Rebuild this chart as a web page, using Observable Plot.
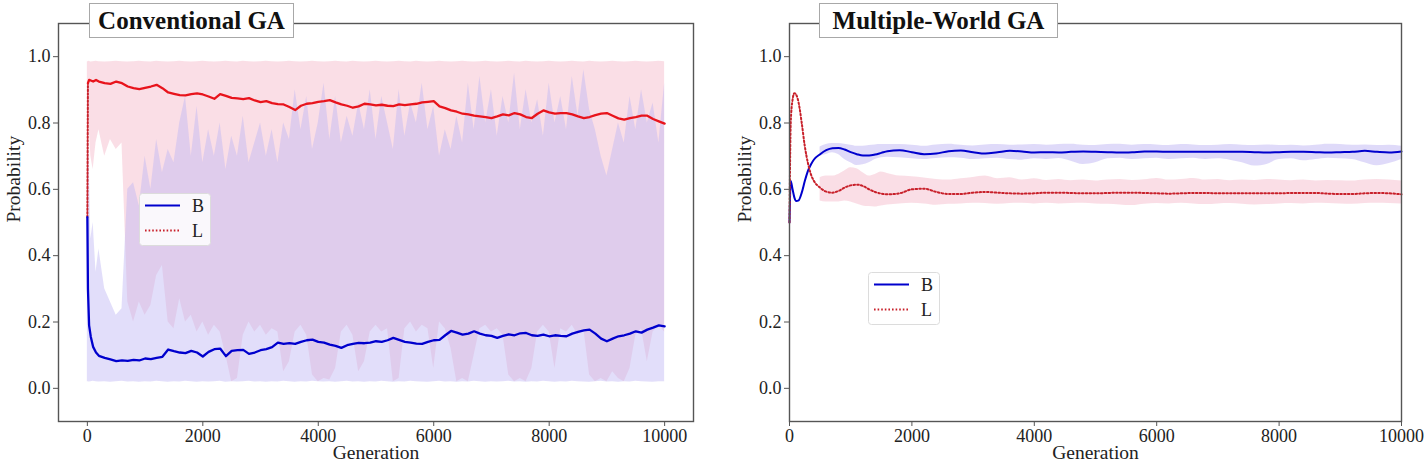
<!DOCTYPE html>
<html>
<head>
<meta charset="utf-8">
<script src="https://cdn.jsdelivr.net/npm/d3@7"></script>
<script src="https://cdn.jsdelivr.net/npm/@observablehq/plot@0.6"></script>
<style>
  html, body { margin: 0; padding: 0; background: #fff; }
  #wrap { position: relative; width: 1428px; height: 465px; overflow: hidden; font-family: "Liberation Serif", "Times New Roman", serif; }
  #wrap > svg { position: absolute; top: 0; }
  .title { position: absolute; top: 3px; height: 35px; box-sizing: border-box; border: 1px solid #a8a8a8; background: #fff;
           font-weight: bold; font-size: 25px; line-height: 33px; text-align: center; color: #111; }
</style>
</head>
<body>
<div id="wrap"></div>
<script>
// ---------- Conventional GA (left) ----------
const genC = [0,10,30,60,100,150,200,
  300,400,500,600,700,800,900,1000,
  1100,1200,1300,1400,1500,1600,1700,1800,1900,2000,
  2100,2200,2300,2400,2500,2600,2700,2800,2900,3000,
  3100,3200,3300,3400,3500,3600,3700,3800,3900,4000,
  4100,4200,4300,4400,4500,4600,4700,4800,4900,5000,
  5100,5200,5300,5400,5500,5600,5700,5800,5900,6000,
  6100,6200,6300,6400,6500,6600,6700,6800,6900,7000,
  7100,7200,7300,7400,7500,7600,7700,7800,7900,8000,
  8100,8200,8300,8400,8500,8600,8700,8800,8900,9000,
  9100,9200,9300,9400,9500,9600,9700,9800,9900,10000];

const bMeanC = [0.516,0.30,0.19,0.155,0.125,0.108,0.098,
  0.092,0.087,0.082,0.084,0.083,0.086,0.084,0.09,
  0.088,0.092,0.095,0.117,0.112,0.108,0.106,0.113,0.108,0.096,
  0.11,0.118,0.12,0.097,0.113,0.115,0.116,0.104,0.108,0.115,
  0.118,0.124,0.138,0.134,0.136,0.134,0.14,0.145,0.147,0.14,
  0.138,0.132,0.128,0.122,0.13,0.134,0.137,0.136,0.138,0.142,
  0.14,0.145,0.152,0.146,0.14,0.138,0.135,0.134,0.14,0.145,
  0.146,0.16,0.173,0.168,0.162,0.165,0.172,0.165,0.16,0.158,
  0.152,0.158,0.163,0.16,0.166,0.167,0.16,0.158,0.162,0.157,
  0.16,0.158,0.157,0.165,0.17,0.175,0.177,0.165,0.15,0.142,
  0.15,0.157,0.16,0.165,0.172,0.168,0.177,0.183,0.19,0.187];

const lMeanC = [0.516,0.92,0.93,0.928,0.925,0.93,0.925,
  0.92,0.918,0.925,0.92,0.91,0.905,0.902,0.906,
  0.91,0.915,0.905,0.892,0.888,0.884,0.883,0.887,0.889,0.886,
  0.88,0.873,0.887,0.882,0.876,0.874,0.872,0.875,0.868,0.863,
  0.866,0.86,0.857,0.856,0.848,0.839,0.852,0.858,0.86,0.864,
  0.866,0.869,0.862,0.856,0.852,0.846,0.85,0.858,0.856,0.853,
  0.855,0.852,0.851,0.856,0.854,0.856,0.858,0.862,0.864,0.866,
  0.85,0.845,0.838,0.834,0.828,0.826,0.822,0.82,0.818,0.815,
  0.82,0.826,0.823,0.83,0.826,0.818,0.815,0.828,0.838,0.832,
  0.828,0.83,0.83,0.826,0.82,0.815,0.818,0.824,0.828,0.83,
  0.822,0.814,0.81,0.815,0.818,0.822,0.822,0.812,0.805,0.798];

const bLoC = [0.02,0.02,0.019,0.02,0.021,0.02,0.019,
  0.02,0.018,0.02,0.021,0.019,0.02,0.018,0.02,
  0.019,0.021,0.02,0.018,0.02,0.019,0.021,0.02,0.018,0.02,
  0.019,0.02,0.021,0.018,0.02,0.019,0.02,0.021,0.019,0.02,
  0.018,0.02,0.019,0.021,0.02,0.018,0.02,0.019,0.021,0.02,
  0.019,0.02,0.018,0.02,0.021,0.019,0.02,0.018,0.02,0.019,
  0.021,0.02,0.018,0.02,0.019,0.021,0.02,0.019,0.018,0.02,
  0.021,0.019,0.02,0.018,0.02,0.019,0.021,0.02,0.018,0.02,
  0.019,0.02,0.021,0.019,0.02,0.018,0.02,0.019,0.021,0.02,
  0.018,0.02,0.019,0.021,0.02,0.019,0.018,0.02,0.021,0.019,
  0.02,0.018,0.02,0.019,0.021,0.02,0.019,0.018,0.02,0.02];

const bHiC = [0.52,0.8,0.7,0.45,0.5,0.35,0.42,
  0.3,0.26,0.22,0.24,0.6,0.62,0.55,0.7,
  0.6,0.75,0.65,0.72,0.68,0.8,0.88,0.7,0.85,0.68,
  0.78,0.7,0.8,0.66,0.76,0.7,0.82,0.68,0.74,0.8,
  0.7,0.78,0.68,0.8,0.75,0.9,0.78,0.88,0.72,0.8,
  0.92,0.75,0.88,0.74,0.82,0.76,0.86,0.78,0.9,0.75,
  0.88,0.8,0.72,0.9,0.76,0.86,0.8,0.92,0.78,0.85,
  0.7,0.78,0.72,0.82,0.74,0.92,0.78,0.94,0.8,0.9,
  0.76,0.88,0.8,0.95,0.78,0.9,0.8,0.87,0.76,0.92,
  0.8,0.88,0.78,0.94,0.82,0.96,0.84,0.78,0.7,0.64,
  0.72,0.8,0.74,0.88,0.78,0.9,0.8,0.86,0.74,0.92];

const lLoC = [0.5,0.78,0.8,0.7,0.66,0.74,0.78,
  0.7,0.75,0.72,0.74,0.26,0.2,0.26,0.22,
  0.25,0.34,0.37,0.2,0.18,0.27,0.2,0.22,0.17,0.2,
  0.16,0.19,0.17,0.1,0.02,0.03,0.16,0.2,0.17,0.19,
  0.16,0.18,0.17,0.05,0.08,0.17,0.19,0.16,0.04,0.02,
  0.03,0.025,0.06,0.17,0.19,0.16,0.05,0.08,0.17,0.19,
  0.17,0.18,0.02,0.03,0.18,0.2,0.17,0.19,0.18,0.06,
  0.2,0.18,0.12,0.02,0.03,0.02,0.1,0.18,0.19,0.17,
  0.18,0.16,0.04,0.02,0.03,0.02,0.06,0.17,0.19,0.17,
  0.06,0.18,0.17,0.19,0.16,0.18,0.04,0.02,0.03,0.02,
  0.05,0.03,0.02,0.06,0.16,0.18,0.08,0.17,0.19,0.17];

const lHiC = [0.985,0.985,0.986,0.984,0.985,0.986,0.985,
  0.984,0.985,0.986,0.985,0.984,0.985,0.986,0.985,
  0.984,0.986,0.985,0.984,0.985,0.986,0.985,0.984,0.985,0.986,
  0.985,0.984,0.985,0.986,0.985,0.984,0.986,0.985,0.984,0.985,
  0.986,0.985,0.984,0.985,0.986,0.985,0.984,0.985,0.986,0.985,
  0.984,0.985,0.986,0.985,0.984,0.986,0.985,0.984,0.985,0.986,
  0.985,0.984,0.985,0.986,0.985,0.984,0.986,0.985,0.984,0.985,
  0.986,0.985,0.984,0.985,0.986,0.985,0.984,0.985,0.986,0.985,
  0.984,0.985,0.986,0.985,0.984,0.986,0.985,0.984,0.985,0.986,
  0.985,0.984,0.985,0.986,0.985,0.984,0.986,0.985,0.984,0.985,
  0.986,0.985,0.984,0.985,0.986,0.985,0.984,0.985,0.986,0.985];

// ---------- Multiple-World GA (right) ----------
const genW = [0,20,50,80,110,150,200,250,300,350,400,
  500,600,700,800,900,1000,1100,1200,1300,1400,1500,1600,
  1800,2000,2200,2400,2600,2800,3000,3200,3400,3600,
  3800,4000,4200,4400,4600,4800,5000,5200,5400,5600,
  5800,6000,6200,6400,6600,6800,7000,7200,7400,7600,
  7800,8000,8200,8400,8600,8800,9000,9200,9400,9600,
  9800,10000];

const bMeanW = [0.5,0.625,0.6,0.575,0.565,0.567,0.59,0.625,0.655,0.675,0.69,
  0.706,0.718,0.724,0.725,0.72,0.712,0.706,0.702,0.702,0.705,0.71,0.715,
  0.718,0.712,0.706,0.708,0.715,0.717,0.712,0.708,0.712,0.716,
  0.714,0.711,0.712,0.711,0.713,0.714,0.713,0.712,0.711,0.712,
  0.714,0.714,0.713,0.713,0.713,0.713,0.713,0.713,0.713,0.712,
  0.711,0.712,0.713,0.713,0.712,0.711,0.712,0.713,0.716,0.713,
  0.711,0.714];

const lMeanW = [0.5,0.8,0.87,0.89,0.885,0.86,0.8,0.73,0.68,0.645,0.625,
  0.605,0.593,0.59,0.595,0.605,0.612,0.614,0.61,0.6,0.592,0.587,0.585,
  0.588,0.6,0.602,0.592,0.586,0.586,0.59,0.592,0.59,0.588,
  0.587,0.588,0.59,0.59,0.589,0.588,0.588,0.589,0.59,0.59,
  0.589,0.588,0.587,0.588,0.589,0.589,0.588,0.588,0.588,0.588,
  0.588,0.588,0.589,0.589,0.589,0.587,0.586,0.586,0.588,0.589,
  0.588,0.585];

const bHiW = [null,null,null,null,null,null,null,null,null,null,null,
  0.728,0.735,0.738,0.738,0.736,0.733,0.73,0.73,0.732,0.734,0.735,0.735,
  0.735,0.733,0.73,0.734,0.736,0.733,0.731,0.734,0.735,0.733,
  0.734,0.735,0.733,0.735,0.736,0.733,0.732,0.735,0.736,0.733,
  0.735,0.734,0.732,0.735,0.734,0.732,0.733,0.735,0.733,0.732,
  0.734,0.732,0.733,0.731,0.733,0.736,0.735,0.733,0.734,0.732,
  0.733,0.73];

const bLoW = [null,null,null,null,null,null,null,null,null,null,null,
  0.7,0.705,0.71,0.705,0.69,0.68,0.672,0.674,0.68,0.69,0.695,0.697,
  0.695,0.692,0.69,0.693,0.695,0.694,0.69,0.692,0.694,0.69,
  0.688,0.692,0.69,0.693,0.685,0.675,0.68,0.692,0.694,0.69,
  0.692,0.694,0.69,0.692,0.694,0.69,0.692,0.688,0.68,0.67,
  0.675,0.69,0.692,0.686,0.69,0.694,0.692,0.69,0.68,0.671,
  0.678,0.69];

const lHiW = [null,null,null,null,null,null,null,null,null,null,null,
  0.635,0.64,0.64,0.645,0.655,0.665,0.662,0.65,0.64,0.645,0.652,0.648,
  0.64,0.638,0.634,0.63,0.628,0.632,0.636,0.64,0.632,0.635,
  0.628,0.632,0.627,0.63,0.626,0.628,0.625,0.628,0.63,0.627,
  0.629,0.633,0.628,0.63,0.633,0.628,0.63,0.626,0.628,0.627,
  0.63,0.628,0.626,0.628,0.625,0.627,0.626,0.625,0.628,0.63,
  0.628,0.625];

const lLoW = [null,null,null,null,null,null,null,null,null,null,null,
  0.565,0.562,0.562,0.562,0.565,0.562,0.556,0.55,0.548,0.547,0.55,0.553,
  0.556,0.558,0.556,0.552,0.555,0.556,0.558,0.557,0.555,0.557,
  0.558,0.556,0.558,0.556,0.557,0.558,0.556,0.555,0.553,0.551,
  0.555,0.557,0.556,0.558,0.556,0.554,0.556,0.557,0.555,0.553,
  0.554,0.556,0.557,0.556,0.558,0.557,0.556,0.555,0.557,0.558,
  0.557,0.556];

const xTicks = [0, 2000, 4000, 6000, 8000, 10000];
const yTicks = [0.0, 0.2, 0.4, 0.6, 0.8, 1.0];
const titles = ["Conventional GA", "Multiple-World GA"];
const legendKeys = ["B", "L"];
const xLabel = "Generation";
const yLabel = "Probability";

// ---------- styles ----------
const FONT = "'Liberation Serif', 'Times New Roman', serif";
const BLUE = "#0000cd";
const RED_SOLID = "#e8141c";
const RED_DOT = "#c8202a";
const B_FILL = "#bfb6f4", B_OP = 0.45;
const L_FILL = "#f4b6c7", L_OP = 0.45;

const rowsC = genC.map((g, i) => ({g, bm: bMeanC[i], lm: lMeanC[i], blo: bLoC[i], bhi: bHiC[i], llo: lLoC[i], lhi: lHiC[i]}));
const rowsW = genW.map((g, i) => ({g, bm: bMeanW[i], lm: lMeanW[i], blo: bLoW[i], bhi: bHiW[i], llo: lLoW[i], lhi: lHiW[i]}));

function axes() {
  return [
    Plot.frame({stroke: "#555", strokeWidth: 1.4}),
    Plot.axisX({ticks: xTicks, tickFormat: d3.format("d"), tickSize: 5, tickPadding: 3, fontSize: 18, label: null, stroke: "#555"}),
    Plot.axisY({ticks: yTicks, tickFormat: d3.format(".1f"), tickSize: 5, tickPadding: 3, fontSize: 18, label: null, stroke: "#555"}),
    Plot.text([yLabel], {text: d => d, frameAnchor: "left", rotate: -90, dx: -45, fontSize: 19.5, fill: "#222"}),
    Plot.text([xLabel], {text: d => d, frameAnchor: "bottom", dy: 37, fontSize: 19.5, fill: "#222"})
  ];
}

const left = Plot.plot({
  width: 714, height: 465,
  marginLeft: 58, marginRight: 21, marginTop: 23, marginBottom: 44,
  x: {domain: [-500, 10500]},
  y: {domain: [-0.1, 1.1]},
  style: {fontFamily: FONT, fontSize: "18px", color: "#222", background: "transparent"},
  marks: [
    Plot.areaY(rowsC, {x: "g", y1: "llo", y2: "lhi", fill: L_FILL, fillOpacity: L_OP}),
    Plot.areaY(rowsC, {x: "g", y1: "blo", y2: "bhi", fill: B_FILL, fillOpacity: B_OP}),
    Plot.line(rowsC.slice(0, 2), {x: "g", y: "lm", stroke: RED_DOT, strokeWidth: 2, strokeDasharray: "1.6,2"}),
    Plot.line(rowsC.slice(1), {x: "g", y: "lm", stroke: RED_SOLID, strokeWidth: 2.3}),
    Plot.line(rowsC, {x: "g", y: "bm", stroke: BLUE, strokeWidth: 2.3}),
    ...axes()
  ]
});

const right = Plot.plot({
  width: 714, height: 465,
  marginLeft: 75, marginRight: 27, marginTop: 23, marginBottom: 44,
  x: {domain: [0, 10000]},
  y: {domain: [-0.1, 1.1]},
  style: {fontFamily: FONT, fontSize: "18px", color: "#222", background: "transparent"},
  marks: [
    Plot.areaY(rowsW, {x: "g", y1: "llo", y2: "lhi", fill: L_FILL, fillOpacity: L_OP, curve: "monotone-x"}),
    Plot.areaY(rowsW, {x: "g", y1: "blo", y2: "bhi", fill: B_FILL, fillOpacity: B_OP + 0.05, curve: "monotone-x"}),
    Plot.line(rowsW, {x: "g", y: "bm", stroke: BLUE, strokeWidth: 2, curve: "monotone-x"}),
    Plot.line(rowsW, {x: "g", y: "lm", stroke: RED_DOT, strokeWidth: 2, strokeDasharray: "1.6,2.2", curve: "monotone-x"}),
    ...axes()
  ]
});

const wrap = document.getElementById("wrap");
left.style.left = "0px";
right.style.left = "714px";
wrap.appendChild(left);
wrap.appendChild(right);

// titles
[[titles[0], 89, 205], [titles[1], 819, 239]].forEach(([t, x, w]) => {
  const d = document.createElement("div");
  d.className = "title";
  d.style.left = x + "px";
  d.style.width = w + "px";
  d.textContent = t;
  wrap.appendChild(d);
});

// legends
function legend(x, y) {
  const ns = "http://www.w3.org/2000/svg";
  const s = document.createElementNS(ns, "svg");
  s.setAttribute("width", 72); s.setAttribute("height", 53);
  s.style.left = x + "px"; s.style.top = y + "px";
  s.style.position = "absolute";
  const r = document.createElementNS(ns, "rect");
  r.setAttribute("x", 0.5); r.setAttribute("y", 0.5); r.setAttribute("width", 71); r.setAttribute("height", 52);
  r.setAttribute("rx", 3); r.setAttribute("fill", "rgba(255,255,255,0.85)"); r.setAttribute("stroke", "#dcdcdc");
  s.appendChild(r);
  legendKeys.forEach((k, i) => {
    const yy = 12.5 + i * 25;
    const ln = document.createElementNS(ns, "line");
    ln.setAttribute("x1", 6); ln.setAttribute("x2", 41); ln.setAttribute("y1", yy); ln.setAttribute("y2", yy);
    ln.setAttribute("stroke", i === 0 ? BLUE : RED_DOT);
    ln.setAttribute("stroke-width", 2);
    if (i === 1) ln.setAttribute("stroke-dasharray", "1.6,2");
    s.appendChild(ln);
    const tx = document.createElementNS(ns, "text");
    tx.setAttribute("x", 53); tx.setAttribute("y", yy + 6);
    tx.setAttribute("font-family", FONT); tx.setAttribute("font-size", 18); tx.setAttribute("fill", "#222");
    tx.textContent = k;
    s.appendChild(tx);
  });
  wrap.appendChild(s);
}
legend(139, 193);
legend(868, 272);
</script>
</body>
</html>
